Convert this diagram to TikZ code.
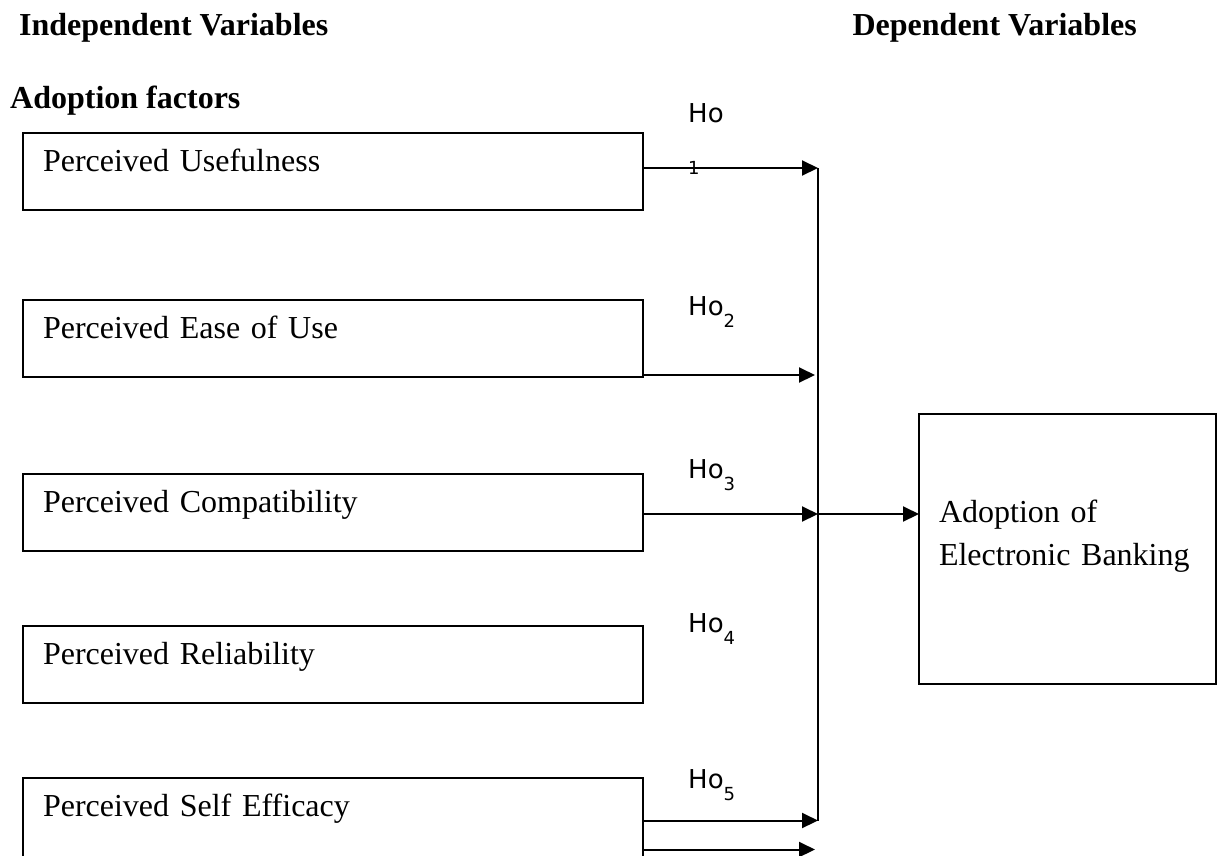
\documentclass[tikz,border=0pt]{standalone}
\usepackage{fontspec}
\setmainfont{Liberation Serif}
\newfontfamily\hofont{DejaVu Sans}
\usetikzlibrary{arrows.meta, positioning}

\newcommand{\hosub}[1]{\raisebox{-12pt}{\fontsize{18}{18}\selectfont #1}}

\begin{document}
\begin{tikzpicture}[
  x=1pt, y=-1pt,
  node distance=90pt,
  heading/.style={anchor=base west, inner sep=0pt,
                  font=\fontsize{32}{38}\selectfont\bfseries},
  factor/.style={draw, line width=2pt, outer sep=0pt, text width=580pt,
                 inner xsep=20pt, inner ysep=0pt, minimum height=77pt,
                 text height=22pt, text depth=22pt, align=left,
                 font=\fontsize{32}{38}\selectfont},
  outcome/.style={draw, line width=2pt, outer sep=0pt, text width=257pt,
                  inner xsep=20pt, minimum height=270pt, text depth=76pt,
                  align=left, font=\fontsize{32}{43}\selectfont},
  hyp/.style={anchor=base west, inner sep=0pt,
              font=\hofont\fontsize{26}{30}\selectfont},
  link/.style={line width=2pt, -{Triangle[length=16pt, width=15pt]}},
  bus/.style={line width=2pt},
]
  \useasboundingbox (0,0) rectangle (1222,855);

  % ── Headings ──
  \node[heading] (iv) at (19,35) {Independent Variables};
  \node[heading, anchor=base east] (dv) at (1137,35) {Dependent Variables};
  \node[heading] (af) at (10,108) {Adoption factors};

  % ── Adoption factors ──
  \node[factor] (pu) at (333,171.5) {Perceived Usefulness};
  \node[factor, below=90pt of pu] (pe) {Perceived Ease of Use};
  \node[factor, below=97pt of pe] (pc) {Perceived Compatibility};
  \node[factor, below=75pt of pc] (pr) {Perceived Reliability};
  \node[factor, below=75pt of pr, minimum height=85pt, text depth=30pt] (ps)
    {Perceived Self Efficacy};

  % ── Dependent variable ──
  \node[outcome] (eb) at (1067.5,549) {Adoption of\\Electronic Banking};

  % ── Hypotheses ──
  \node[hyp] (h1) at (688,122)
    {\rlap{\raisebox{-52pt}{\fontsize{18}{18}\selectfont 1}}Ho};
  \node[hyp] (h2) at (688,315) {Ho\hosub{2}};
  \node[hyp] (h3) at (688,478) {Ho\hosub{3}};
  \node[hyp] (h4) at (688,632) {Ho\hosub{4}};
  \node[hyp] (h5) at (688,788) {Ho\hosub{5}};

  % ── Connectors ──
  \coordinate (bus) at (818,0);
  \draw[bus] ([yshift=3.5pt]pu.east -| bus) -- (ps.east -| bus);
  \draw[link] ([yshift=3.5pt]pu.east) -- ([yshift=3.5pt]pu.east -| bus);
  \draw[link, shorten >=3pt] ([yshift=2pt]pe.south east)
    -- ([yshift=2pt]pe.south east -| bus);
  \draw[link] ([yshift=-1.5pt]pc.east) -- ([yshift=-1.5pt]pc.east -| bus);
  \draw[link] ([yshift=-1.5pt]pc.east -| bus) -- ([yshift=-1.5pt]pc.east -| eb.west);
  \draw[link] (ps.east) -- (ps.east -| bus);
  \draw[link, shorten >=3pt] ([yshift=13.5pt]ps.south east)
    -- ([yshift=13.5pt]ps.south east -| bus);
\end{tikzpicture}
\end{document}
